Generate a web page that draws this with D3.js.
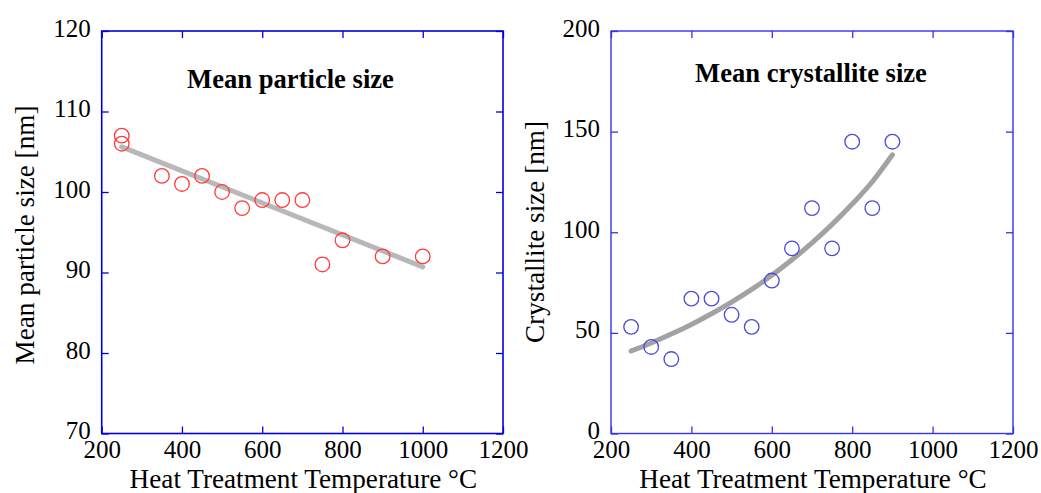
<!DOCTYPE html>
<html>
<head>
<meta charset="utf-8">
<script src="https://cdn.jsdelivr.net/npm/d3@7"></script>
<style>
  html, body { margin: 0; padding: 0; background: #fff; }
  svg { display: block; }
</style>
</head>
<body>
<svg id="chart" width="1041" height="493"></svg>
<script>
// Temperatures (°C) and measured sizes
const particleTemp = [250, 250, 350, 400, 450, 500, 550, 600, 650, 700, 750, 800, 900, 1000];
const particleSize = [107, 106, 102, 101, 102, 100, 98, 99, 99, 99, 91, 94, 92, 92];
// linear trend for the particle size
const particleFitTemp = [250, 1000];
const particleFitSize = [105.6, 90.7];

const crystalTemp = [250, 300, 350, 400, 450, 500, 550, 600, 650, 700, 750, 800, 850, 900];
const crystalSize = [53, 43, 37, 67, 67, 59, 53, 76, 92, 112, 92, 145, 112, 145];
// growth trend for the crystallite size
const crystalFitTemp = [250, 300, 350, 400, 450, 500, 550, 600, 650, 700, 750, 800, 850, 900];
const crystalFitSize = [41, 45, 49.4, 54.2, 59.5, 65.3, 71.6, 78.6, 86.3, 94.7, 103.9, 114, 125.1, 138.5];

const xTicks = [200, 400, 600, 800, 1000, 1200];
const particleTicks = [70, 80, 90, 100, 110, 120];
const crystalTicks = [0, 50, 100, 150, 200];

const xLabel = "Heat Treatment Temperature °C";

const SERIF = '"Liberation Serif", "Times New Roman", Times, serif';

const panels = [
  {
    title: "Mean particle size", yLabel: "Mean particle size [nm]",
    xs: particleTemp, ys: particleSize, fx: particleFitTemp, fy: particleFitSize,
    yDomain: [70, 120], yTicks: particleTicks,
    left: 101.7, right: 503, titleX: 290.5, titleY: 88, yLabelX: 34, yLabelY: 235,
    frame: "#0000dd", frameW: 1.6, marker: "#ff3b3b", fit: "#b8b8b8", curve: d3.curveLinear
  },
  {
    title: "Mean crystallite size", yLabel: "Crystallite size [nm]",
    xs: crystalTemp, ys: crystalSize, fx: crystalFitTemp, fy: crystalFitSize,
    yDomain: [0, 200], yTicks: crystalTicks,
    left: 611, right: 1013, titleX: 811, titleY: 82, yLabelX: 543.5, yLabelY: 232,
    frame: "#3333ee", frameW: 1.4, marker: "#4a4ae0", fit: "#a2a2a2", curve: d3.curveMonotoneX
  }
];

const plotTop = 31, plotBottom = 433.5, tickLen = 7;
const svg = d3.select("#chart").attr("font-family", SERIF);

panels.forEach(p => {
  const x = d3.scaleLinear().domain([200, 1200]).range([p.left, p.right]);
  const y = d3.scaleLinear().domain(p.yDomain).range([plotBottom, plotTop]);
  const g = svg.append("g");

  const styleAxis = sel => {
    sel.attr("font-family", SERIF).attr("font-size", 25);
    sel.select(".domain").remove();
    sel.selectAll(".tick line").attr("stroke", p.frame).attr("stroke-width", 1.3);
    sel.selectAll(".tick text").attr("fill", "#000");
  };

  g.append("g").attr("transform", `translate(0,${plotBottom})`)
    .call(d3.axisBottom(x).tickValues(xTicks).tickSize(-tickLen).tickPadding(7).tickFormat(d3.format("d")))
    .call(styleAxis);
  g.append("g").attr("transform", `translate(0,${plotTop})`)
    .call(d3.axisTop(x).tickValues(xTicks).tickSize(-tickLen).tickFormat(""))
    .call(styleAxis);
  g.append("g").attr("transform", `translate(${p.left},0)`)
    .call(d3.axisLeft(y).tickValues(p.yTicks).tickSize(-tickLen).tickPadding(11).tickFormat(d3.format("d")))
    .call(styleAxis)
    .selectAll(".tick text").attr("dy", "0.2em");
  g.append("g").attr("transform", `translate(${p.right},0)`)
    .call(d3.axisRight(y).tickValues(p.yTicks).tickSize(-tickLen).tickFormat(""))
    .call(styleAxis);

  g.append("rect")
    .attr("x", p.left).attr("y", plotTop)
    .attr("width", p.right - p.left).attr("height", plotBottom - plotTop)
    .attr("fill", "none").attr("stroke", p.frame).attr("stroke-width", p.frameW);

  // trend line
  const line = d3.line().x(d => x(d[0])).y(d => y(d[1])).curve(p.curve);
  g.append("path")
    .datum(d3.zip(p.fx, p.fy))
    .attr("d", line)
    .attr("fill", "none").attr("stroke", p.fit).attr("stroke-width", 5)
    .attr("stroke-linecap", "round");

  // measurements
  g.append("g").selectAll("circle")
    .data(d3.zip(p.xs, p.ys))
    .join("circle")
    .attr("cx", d => x(d[0])).attr("cy", d => y(d[1])).attr("r", 7.3)
    .attr("fill", "none").attr("stroke", p.marker).attr("stroke-width", 1.3);

  g.append("text")
    .attr("x", p.titleX).attr("y", p.titleY)
    .attr("text-anchor", "middle")
    .attr("font-family", SERIF).attr("font-size", 26.6).attr("font-weight", "bold")
    .text(p.title);

  g.append("text")
    .attr("transform", `translate(${p.yLabelX},${p.yLabelY}) rotate(-90)`)
    .attr("text-anchor", "middle")
    .attr("font-family", SERIF).attr("font-size", 27.2)
    .text(p.yLabel);

  g.append("text")
    .attr("x", (p.left + p.right) / 2 + 1).attr("y", 488)
    .attr("text-anchor", "middle")
    .attr("font-family", SERIF).attr("font-size", 27.2)
    .text(xLabel);
});
</script>
</body>
</html>
